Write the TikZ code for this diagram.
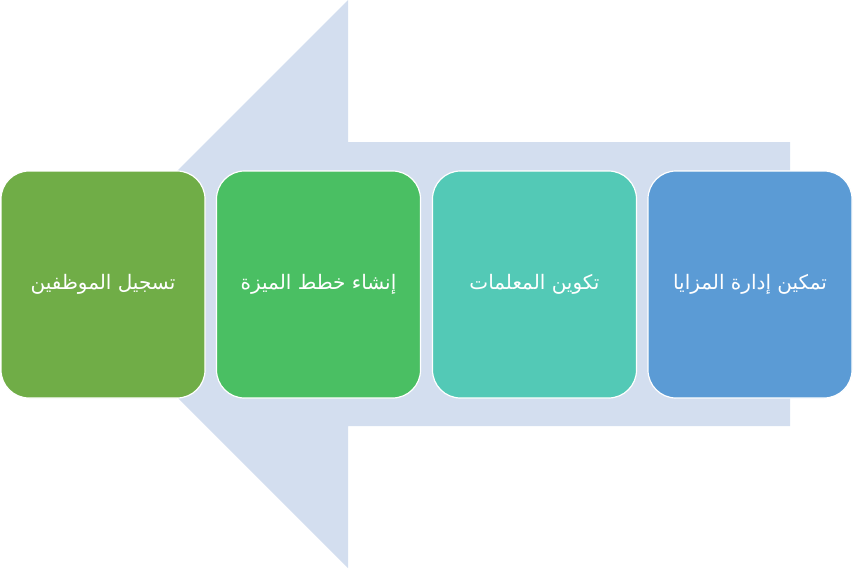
\documentclass[tikz,border=0pt]{standalone}
\usepackage{fontspec}
\newfontfamily\arabicfont[Script=Arabic]{DejaVu Sans}
\TeXXeTstate=1
\definecolor{arrowbg}{HTML}{D3DEEF}
\definecolor{cA}{HTML}{70AD47}
\definecolor{cB}{HTML}{4ABF63}
\definecolor{cC}{HTML}{53C9B6}
\definecolor{cD}{HTML}{5B9BD5}
\newcommand{\artext}[1]{\raisebox{-3pt}{\beginR #1\endR}}
\tikzset{
  stepbox/.style={draw=white, line width=1.2pt, rounded corners=28pt,
    minimum width=204pt, minimum height=227pt, inner sep=0pt,
    text=white, font=\arabicfont\fontsize{20pt}{24pt}\selectfont},
}
\begin{document}
\begin{tikzpicture}[x=1pt,y=-1pt]
\useasboundingbox (0,0) rectangle (854,568);
\fill[arrowbg] (790,142) -- (348,142) -- (348,0) -- (64,284) -- (348,568) -- (348,426) -- (790,426) -- cycle;
\node[stepbox, fill=cA] (n1) at (103,284.5) {\artext{تسجيل الموظفين}};
\node[stepbox, fill=cB] (n2) at (318.5,284.5) {\artext{إنشاء خطط الميزة}};
\node[stepbox, fill=cC] (n3) at (534.5,284.5) {\artext{تكوين المعلمات}};
\node[stepbox, fill=cD] (n4) at (750,284.5) {\artext{تمكين إدارة المزايا}};
\end{tikzpicture}
\end{document}
